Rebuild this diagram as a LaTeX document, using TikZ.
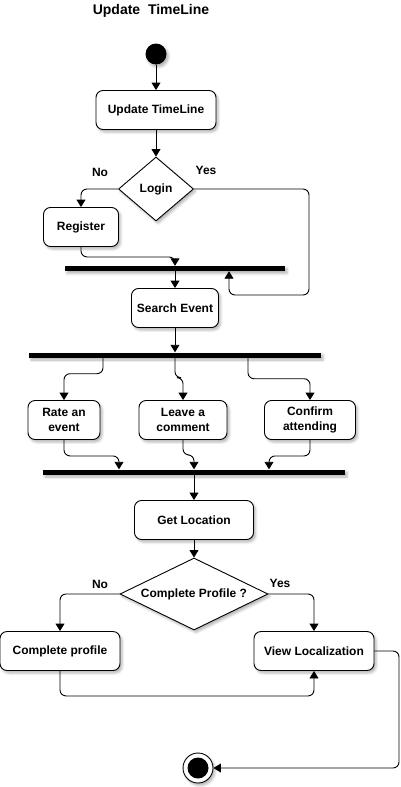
\documentclass[tikz,border=0pt]{standalone}
\usepackage{fontspec}
\setmainfont{Liberation Sans}
\usetikzlibrary{arrows.meta,shapes.geometric,shadows.blur}
\begin{document}
\begin{tikzpicture}[x=1pt,y=-1pt,
  font=\fontsize{12}{15}\selectfont\bfseries,
  shd/.style={blur shadow={shadow xshift=2pt,shadow yshift=-2.5pt,shadow blur radius=2.5pt,shadow opacity=30}},
  act/.style={draw,rounded corners=7pt,fill=white,line width=0.9pt,align=center,inner sep=0pt,minimum height=39pt,shd},
  dec/.style={draw,shape=diamond,fill=white,line width=0.9pt,inner sep=0pt,shd},
  bar/.style={fill=black,rectangle,inner sep=0pt,minimum height=5pt,shd},
  arr/.style={-{Triangle[width=9pt,length=7.5pt]},line width=0.9pt,rounded corners=6pt},
  lbl/.style={inner sep=0pt}]
\useasboundingbox (0,0) rectangle (400,787);

\node[font=\fontsize{14}{16}\selectfont\bfseries,lbl] (title) at (151,11) {Update\ \ TimeLine};

\node[circle,fill=black,minimum size=21pt,inner sep=0pt,shd] (start) at (156,54) {};
\node[act,minimum width=120pt] (update) at (156,110) {Update TimeLine};
\node[dec,minimum width=75pt,minimum height=64pt,aspect=1.17] (login) at (156,189) {Login};
\node[lbl] (no1) at (100,172) {No};
\node[lbl] (yes1) at (206,170) {Yes};
\node[act,minimum width=75pt] (register) at (81,227) {Register};
\node[bar,minimum width=220pt] (bar1) at (175,268.5) {};
\coordinate (c1) at (309,295);
\node[act,minimum width=87pt] (search) at (175,308) {Search Event};
\node[bar,minimum width=292pt] (bar2) at (175,355) {};
\node[act,minimum width=72pt] (rate) at (64,420) {Rate an\\event};
\node[act,minimum width=88pt] (leave) at (183,420) {Leave a\\comment};
\node[act,minimum width=91pt] (confirm) at (310,420) {Confirm\\attending};
\node[bar,minimum width=302pt] (bar3) at (194,472) {};
\node[act,minimum width=119pt] (getloc) at (194,520) {Get Location};
\node[dec,minimum width=148pt,minimum height=72pt,aspect=2.05] (profq) at (194,594) {Complete Profile ?};
\node[lbl] (no2) at (100,584) {No};
\node[lbl] (yes2) at (280,583) {Yes};
\node[act,minimum width=120pt] (complete) at (60,651) {Complete profile};
\node[act,minimum width=120pt] (viewloc) at (314,651) {View Localization};
\coordinate (c2) at (399,768);
\node[circle,draw,fill=white,line width=0.9pt,minimum size=30pt,inner sep=0pt,shd] (end) at (198,768) {};
\node[circle,fill=black,minimum size=21pt,inner sep=0pt] (endin) at (end.center) {};

\draw[arr] (start) -- (update);
\draw[arr] (update) -- (login);
\draw[arr] (login.west) -| (register.north);
\draw[arr] (login.east) -| (c1) -| ([xshift=54pt]bar1.south);
\draw[arr] (register.south) -- ++(0,10) -| (bar1.north);
\draw[arr] (bar1.south) -- (search.north);
\draw[arr] (search.south) -- (bar2.north);
\draw[arr] ([xshift=-72pt]bar2.south) -- ++(0,16) -| (rate.north);
\draw[arr] (bar2.south) -- ++(0,20) -| (leave.north);
\draw[arr] ([xshift=73pt]bar2.south) -- ++(0,21) -| (confirm.north);
\draw[arr] (rate.south) -- ++(0,16) -| ([xshift=-75pt]bar3.north);
\draw[arr] (leave.south) -- ++(0,15) -| (bar3.north);
\draw[arr] (confirm.south) -- ++(0,16) -| ([xshift=75pt]bar3.north);
\draw[arr] (bar3.south) -- (getloc.north);
\draw[arr] (getloc.south) -- (profq.north);
\draw[arr] (profq.west) -| (complete.north);
\draw[arr] (profq.east) -| (viewloc.north);
\draw[arr] (complete.south) -- ++(0,25) -| (viewloc.south);
\draw[arr] (viewloc.east) -| (c2) -- (end.east);
\end{tikzpicture}
\end{document}
